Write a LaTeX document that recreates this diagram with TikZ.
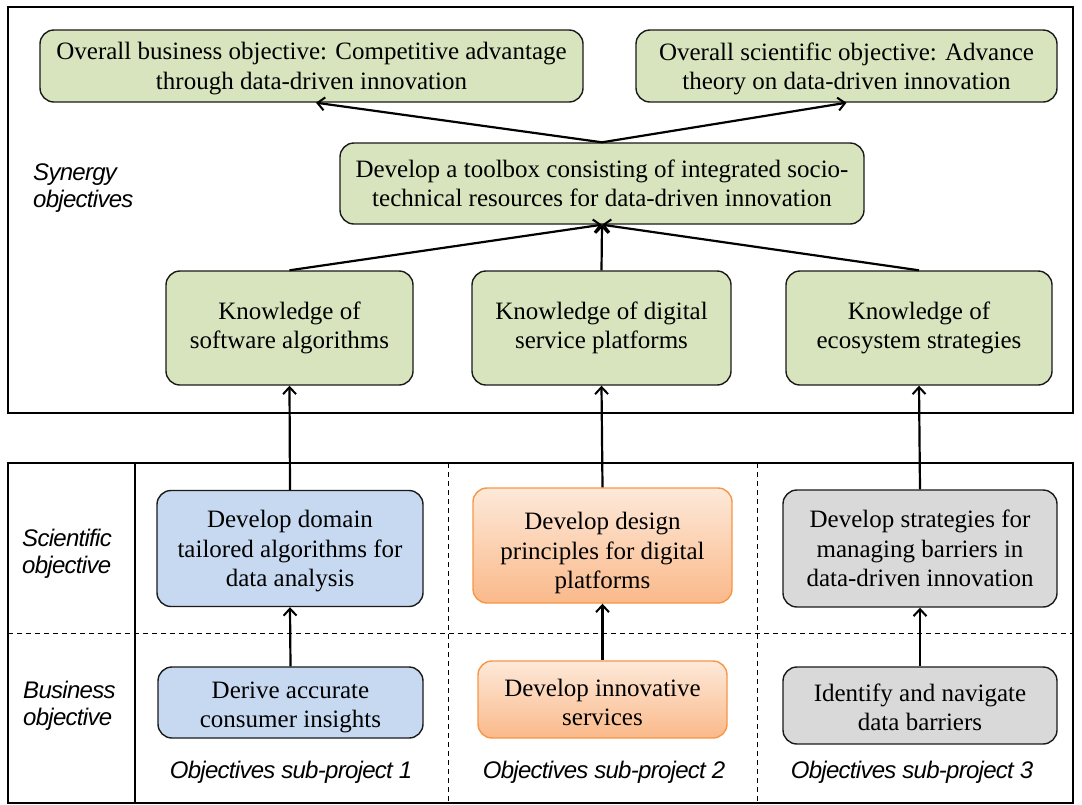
\documentclass[tikz,border=0pt]{standalone}
\usepackage{fontspec}
\setmainfont{Liberation Serif}
\newfontfamily\labelfont{Liberation Sans}[LetterSpace=-3]
\usetikzlibrary{arrows.meta}
\definecolor{boxgreen}{HTML}{D7E4BD}
\definecolor{boxblue}{HTML}{C6D9F1}
\definecolor{boxgrey}{HTML}{D9D9D9}
\definecolor{orangetop}{HTML}{FDE9D9}
\definecolor{orangebot}{HTML}{FAB98A}
\definecolor{orangeline}{HTML}{F79646}
\definecolor{edge}{HTML}{1A1A1A}
\begin{document}
\begin{tikzpicture}[x=1pt,y=-1pt,
  objbox/.style={draw=edge,line width=1.4pt,rounded corners=14pt,inner sep=0pt,
    align=center,font=\fontsize{25}{29.5}\selectfont},
  % flattening the text depth (and raising its height) lowers the text in its box
  tdown/.style={text depth=0pt},
  tlow/.style={text depth=0pt,text height=#1},
  greenbox/.style={objbox,fill=boxgreen},
  bluebox/.style={objbox,fill=boxblue},
  greybox/.style={objbox,fill=boxgrey},
  orangebox/.style={objbox,draw=orangeline,top color=orangetop,bottom color=orangebot},
  rowlabel/.style={align=left,anchor=west,inner sep=0pt,
    font=\labelfont\itshape\fontsize{24}{27}\selectfont},
  collabel/.style={inner sep=0pt,font=\labelfont\itshape\fontsize{24}{27}\selectfont},
  frame/.style={draw=black,line width=1.4pt},
  divider/.style={draw=black,line width=1pt,dash pattern=on 5pt off 4pt},
  link/.style={draw=black,line width=2.2pt,-{Straight Barb[length=7pt,width=13pt,line width=2pt]}}
]
\useasboundingbox (0,0) rectangle (1082,804);

% frames
\draw[frame] (8,7) rectangle (1073,413);
\draw[frame] (8,463) rectangle (1073,803);
\draw[frame] (135,463) -- (135,803);
\draw[divider] (8,633) -- (1073,633);
\draw[divider] (448,463) -- (448,803);
\draw[divider] (757,463) -- (757,803);

% synergy objectives
\node[greenbox,tdown,minimum width=543pt,minimum height=72pt] (ob) at (311.5,66)
  {Overall business objective: Competitive advantage\\through data-driven innovation};
\node[greenbox,tdown,minimum width=421pt,minimum height=72pt] (os) at (846.5,66)
  {Overall scientific objective: Advance\\theory on data-driven innovation};
\node[greenbox,minimum width=524pt,minimum height=81pt] (tb) at (602,183.5)
  {Develop a toolbox consisting of integrated socio-\\technical resources for data-driven innovation};
\node[greenbox,minimum width=247pt,minimum height=114pt] (ks) at (289.5,328)
  {Knowledge of\\software algorithms};
\node[greenbox,minimum width=259pt,minimum height=114pt] (kd) at (601.5,328)
  {Knowledge of digital\\service platforms};
\node[greenbox,minimum width=266pt,minimum height=114pt] (ke) at (919,328)
  {Knowledge of\\ecosystem strategies};

% sub-project objectives
\node[bluebox,tdown,minimum width=266pt,minimum height=116pt] (sc1) at (290,548.5)
  {Develop domain\\tailored algorithms for\\data analysis};
\node[bluebox,tlow=50.5pt,minimum width=265pt,minimum height=71pt] (bu1) at (290.5,702.5)
  {Derive accurate\\consumer insights};
\node[orangebox,tlow=86pt,minimum width=259pt,minimum height=115pt] (sc2) at (602.5,545.5)
  {Develop design\\principles for digital\\platforms};
\node[orangebox,tlow=52.6pt,minimum width=249pt,minimum height=77pt] (bu2) at (602.5,699.5)
  {Develop innovative\\services};
\node[greybox,minimum width=274pt,minimum height=117pt] (sc3) at (920,548.5)
  {Develop strategies for\\managing barriers in\\data-driven innovation};
\node[greybox,tlow=50.6pt,minimum width=274pt,minimum height=77pt] (bu3) at (920,705.5)
  {Identify and navigate\\data barriers};

% labels
\node[rowlabel] (lsyn) at (33,188) {Synergy\\objectives};
\node[rowlabel] (lsci) at (22,554) {Scientific\\objective};
\node[rowlabel] (lbus) at (23,706) {Business\\objective};
\node[collabel] (c1) at (291,772) {Objectives sub-project 1};
\node[collabel] (c2) at (604,772) {Objectives sub-project 2};
\node[collabel] (c3) at (912,772) {Objectives sub-project 3};

% connectors
\draw[link] (tb.north) -- ([xshift=4.5pt]ob.south);
\draw[link] (tb.north) -- (os.south);
\draw[link] (ks.north) -- (tb.south);
\draw[link] (kd.north) -- (tb.south);
\draw[link] (ke.north) -- (tb.south);
\draw[link] (sc1.north) -- (ks.south);
\draw[link] (sc2.north) -- (kd.south);
\draw[link] (sc3.north) -- (ke.south);
\draw[link] (bu1.north) -- (sc1.south);
\draw[link] (bu2.north) -- (sc2.south);
\draw[link] (bu3.north) -- (sc3.south);
\end{tikzpicture}
\end{document}
